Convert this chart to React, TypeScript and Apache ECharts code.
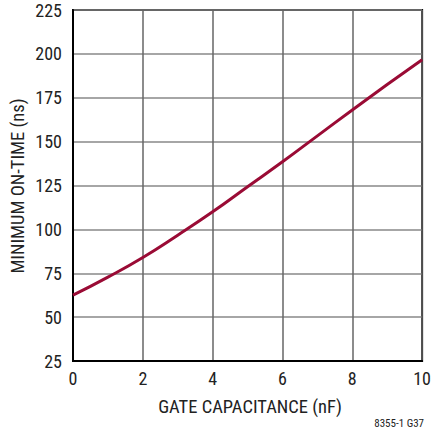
import React, { useEffect, useRef } from "react";
import * as echarts from "echarts";

const capacitance = [0, 1, 2, 3, 4, 5, 6, 7, 8, 9, 10];
const minOnTime = [62.5, 72.8, 84, 96.7, 110, 124.3, 138.5, 153.3, 168, 182.5, 196.7];
const xTitle = "GATE CAPACITANCE (nF)";
const yTitle = "MINIMUM ON-TIME (ns)";
const note = "8355-1 G37";

const FONT = "'Liberation Sans Narrow', 'Roboto Condensed', 'Liberation Sans', sans-serif";

export default function App() {
  const ref = useRef<HTMLDivElement>(null);
  useEffect(() => {
    if (!ref.current) return;
    const chart = echarts.init(ref.current, undefined, { renderer: "svg" });
    chart.setOption({
      animation: false,
      backgroundColor: "#fff",
      grid: {
        left: 73,
        top: 10,
        right: 10,
        bottom: 74,
        show: true,
        borderColor: "#000",
        borderWidth: 2,
        containLabel: false,
      },
      xAxis: {
        type: "value",
        min: 0,
        max: 10,
        interval: 2,
        axisLine: { show: true, lineStyle: { color: "#000", width: 2 } },
        axisTick: { show: false },
        axisLabel: { color: "#222", fontSize: 18, fontFamily: FONT, margin: 8 },
        splitLine: { show: true, lineStyle: { color: "#666", width: 1.5 } },
      },
      yAxis: {
        type: "value",
        min: 25,
        max: 225,
        interval: 25,
        axisLine: { show: true, lineStyle: { color: "#000", width: 2 } },
        axisTick: { show: false },
        axisLabel: { color: "#222", fontSize: 18, fontFamily: FONT, margin: 11 },
        splitLine: { show: true, lineStyle: { color: "#888", width: 1.5 } },
      },
      series: [
        {
          type: "line",
          data: capacitance.map((c, i) => [c, minOnTime[i]]),
          smooth: true,
          showSymbol: false,
          lineStyle: { color: "#9a0b35", width: 3 },
        },
      ],
      graphic: [
        {
          type: "text",
          x: 250,
          y: 407,
          style: {
            text: xTitle,
            fill: "#222",
            font: `18.5px ${FONT}`,
            textAlign: "center",
            textVerticalAlign: "middle",
          },
        },
        {
          type: "text",
          x: 18,
          y: 186,
          rotation: Math.PI / 2,
          style: {
            text: yTitle,
            fill: "#222",
            font: `18.5px ${FONT}`,
            textAlign: "center",
            textVerticalAlign: "middle",
          },
        },
        {
          type: "text",
          x: 424,
          y: 423,
          style: {
            text: note,
            fill: "#222",
            font: `11px ${FONT}`,
            textAlign: "right",
            textVerticalAlign: "middle",
          },
        },
      ],
    });
    return () => chart.dispose();
  }, []);
  return <div ref={ref} style={{ width: 434, height: 435, position: "absolute", left: 0, top: 0 }} />;
}
